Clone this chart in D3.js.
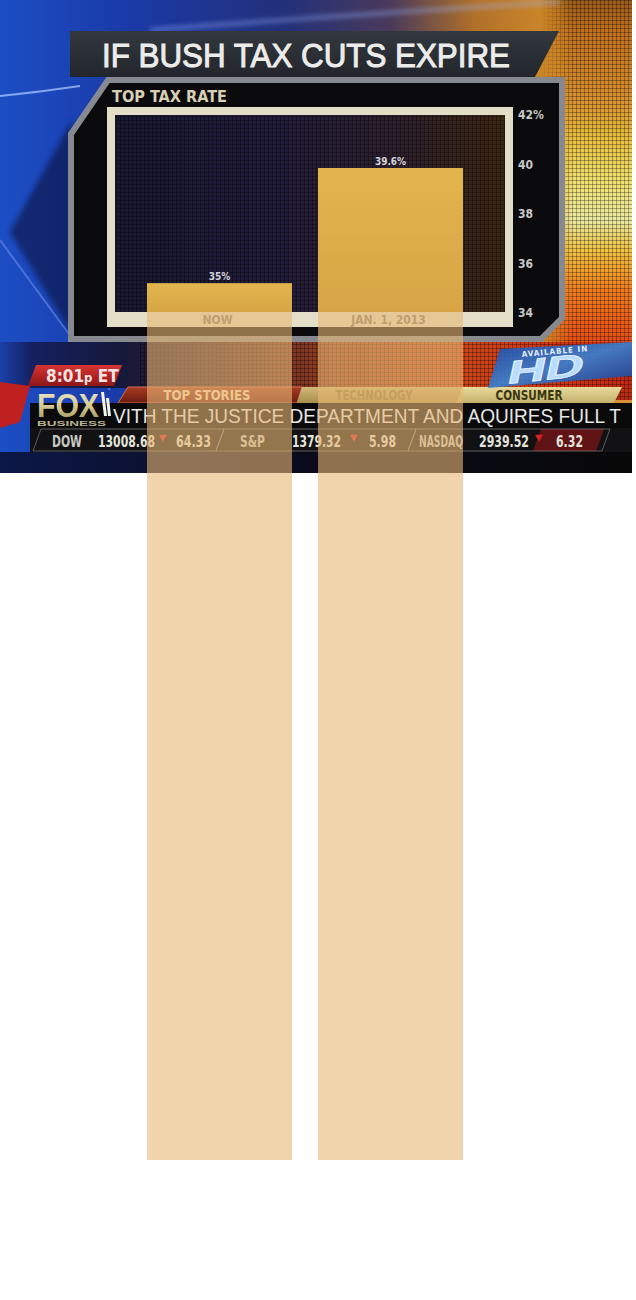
<!DOCTYPE html>
<html>
<head>
<meta charset="utf-8">
<script src="https://cdn.jsdelivr.net/npm/d3@7"></script>
<style>
  body { margin: 0; background: #fff; }
  svg { display: block; }
</style>
</head>
<body>
<div id="chart"></div>
<script>
// values
var categories = ["NOW", "JAN. 1, 2013"];
var rates = [35, 39.6];
var rateLabels = ["35%", "39.6%"];
var axisTicks = [34, 36, 38, 40, 42];
var tabs = ["TOP STORIES", "TECHNOLOGY", "CONSUMER"];
var tickerNames = ["DOW", "S&P", "NASDAQ"];
var tickerValues = ["13008.68", "1379.32", "2939.52"];
var tickerChanges = ["64.33", "5.98", "6.32"];
var crawlText = "VITH THE JUSTICE DEPARTMENT AND AQUIRES FULL T";

var svgWidth = 636;
var svgHeight = 1300;
var tvWidth = 632;
var tvHeight = 473;

var cond = '"Liberation Sans Narrow", "DejaVu Sans Condensed", "Liberation Sans", sans-serif';
var sans = '"Liberation Sans", Arial, sans-serif';

var svg = d3.select("#chart")
    .append("svg")
    .attr("width", svgWidth)
    .attr("height", svgHeight);

var defs = svg.append("defs");

function addGradient(id, x2, y2, stops) {
    var g = defs.append("linearGradient").attr("id", id)
        .attr("x1", 0).attr("y1", 0).attr("x2", x2).attr("y2", y2);
    stops.forEach(function(s) {
        g.append("stop").attr("offset", s[0]).attr("stop-color", s[1])
            .attr("stop-opacity", s[2] == null ? 1 : s[2]);
    });
}

addGradient("bg", 1, 0, [[0, "#1c4ec4"], [0.2, "#1a3aa8"], [0.45, "#23307a"], [0.62, "#4a3a5a"], [0.75, "#b0702a"], [0.88, "#d08a28"], [1, "#d89030"]]);
addGradient("rightCol", 0, 1, [[0, "#9a5a18"], [0.08, "#c07020"], [0.25, "#d89030"], [0.35, "#e8c040"], [0.45, "#f0e070"], [0.55, "#eaeaa0"], [0.63, "#f0c040"], [0.72, "#f08020"], [0.82, "#e85818"], [0.92, "#d83a10"], [1, "#b02a10"]]);
addGradient("fadeGrad", 1, 0, [[0, "#fff", 0], [0.35, "#fff", 1], [1, "#fff", 1]]);
addGradient("lowBand", 1, 0, [[0, "#1a40a8"], [0.05, "#142060"], [0.2, "#161838"], [0.3, "#3a2030"], [0.5, "#8a3a20"], [0.7, "#c84a18"], [0.85, "#d03814"], [1, "#c02810"]]);
addGradient("bottomStrip", 1, 0, [[0, "#0c1848"], [0.4, "#0a0c20"], [1, "#080808"]]);
addGradient("titleBg", 0, 1, [[0, "#33383f"], [1, "#22262c"]]);
addGradient("plotBg", 1, 0, [[0, "#18182f"], [0.4, "#221c3a"], [0.72, "#2c1f2c"], [1, "#3c2612"]]);
addGradient("goldBar", 0, 1, [[0, "#d6b214"], [1, "#bc8a00"]]);
addGradient("redTag", 0, 1, [[0, "#d83434"], [1, "#8e1616"]]);
addGradient("tabRed", 0, 1, [[0, "#a83c22"], [1, "#6a1a10"]]);
addGradient("tabOlive", 0, 1, [[0, "#d0b878"], [1, "#a88e4c"]]);
addGradient("tabBeige", 0, 1, [[0, "#e8da9c"], [1, "#c2b06a"]]);
addGradient("foxGold", 0, 1, [[0, "#f0ecd0"], [0.5, "#d8cc98"], [1, "#9a8a4c"]]);
addGradient("hdBlue", 1, 1, [[0, "#1a4aa8"], [0.5, "#3c80d0"], [1, "#1a3c90"]]);

var dots = defs.append("pattern").attr("id", "dots")
    .attr("width", 4).attr("height", 4).attr("patternUnits", "userSpaceOnUse");
dots.append("path").attr("d", "M0 0.5H4M0.5 0V4")
    .attr("stroke", "#000").attr("stroke-opacity", 0.3).attr("stroke-width", 1);

defs.append("filter").attr("id", "soft").attr("x", "-20%").attr("y", "-20%").attr("width", "140%").attr("height", "140%")
    .append("feGaussianBlur").attr("stdDeviation", 2.5);

defs.append("mask").attr("id", "fadeLeft")
    .append("rect").attr("x", 540).attr("y", 0).attr("width", 92).attr("height", 400)
    .attr("fill", "url(#fadeGrad)");

defs.append("clipPath").attr("id", "tvClip")
    .append("rect").attr("width", tvWidth).attr("height", tvHeight);

var tv = svg.append("g").attr("clip-path", "url(#tvClip)");

// studio backdrop
tv.append("rect").attr("width", tvWidth).attr("height", tvHeight).attr("fill", "url(#bg)");

var rightCol = tv.append("g").attr("mask", "url(#fadeLeft)");
rightCol.append("rect").attr("x", 540).attr("y", 0).attr("width", 92).attr("height", 400).attr("fill", "url(#rightCol)");
rightCol.append("rect").attr("x", 540).attr("y", 0).attr("width", 92).attr("height", 400).attr("fill", "url(#dots)");

tv.append("polygon").attr("points", "72,120 10,232 72,335")
    .attr("fill", "#0e1648").attr("opacity", 0.65).attr("filter", "url(#soft)");
tv.append("path").attr("d", "M0,96 Q40,92 80,86")
    .attr("stroke", "#b0d0ff").attr("stroke-width", 2).attr("fill", "none").attr("opacity", 0.7);
tv.append("path").attr("d", "M150,30 Q360,14 560,2")
    .attr("stroke", "#9ab8ff").attr("stroke-width", 4).attr("fill", "none").attr("opacity", 0.45).attr("filter", "url(#soft)");
tv.append("path").attr("d", "M0,240 L110,390")
    .attr("stroke", "#6a8ae8").attr("stroke-width", 2).attr("fill", "none").attr("opacity", 0.6);

// lower band behind the tabs
tv.append("rect").attr("x", 0).attr("y", 342).attr("width", tvWidth).attr("height", 46).attr("fill", "url(#lowBand)");
tv.append("rect").attr("x", 140).attr("y", 342).attr("width", tvWidth - 140).attr("height", 46).attr("fill", "url(#dots)");
tv.append("polygon").attr("points", "0,382 30,386 20,422 0,428").attr("fill", "#c02020");

// title panel
tv.append("polygon").attr("points", "70,31 559,31 535,77 70,77").attr("fill", "url(#titleBg)");
tv.append("text")
    .attr("x", 102).attr("y", 67)
    .attr("textLength", 408).attr("lengthAdjust", "spacingAndGlyphs")
    .style("font-family", sans).style("font-size", "34px")
    .attr("fill", "#ececea").attr("stroke", "#ececea").attr("stroke-width", 1)
    .text("IF BUSH TAX CUTS EXPIRE");

// chart panel
tv.append("polygon").attr("points", "108,80 562,80 562,318 541,339 71,339 71,134")
    .attr("fill", "#0b0b0d").attr("stroke", "#868a90").attr("stroke-width", 6);
tv.append("text")
    .attr("x", 112).attr("y", 102)
    .attr("textLength", 115).attr("lengthAdjust", "spacingAndGlyphs")
    .style("font-family", cond).style("font-size", "16px").style("font-weight", "bold")
    .attr("fill", "#d8d0b4")
    .text("TOP TAX RATE");

tv.append("rect").attr("x", 107).attr("y", 107).attr("width", 406).attr("height", 220).attr("fill", "#e2dec8");
tv.append("rect").attr("x", 115).attr("y", 115).attr("width", 390).attr("height", 197).attr("fill", "url(#plotBg)");
tv.append("rect").attr("x", 115).attr("y", 115).attr("width", 390).attr("height", 197).attr("fill", "url(#dots)");

// scales: the truncated TV axis and the real zero-based one
var xBand = d3.scaleBand()
    .domain(categories)
    .range([147, 463])
    .paddingInner(0.152)
    .paddingOuter(0);

var yTrunc = d3.scaleLinear()
    .domain([34, 42])
    .range([313, 115]);

var yTrue = d3.scaleLinear()
    .domain([0, 40])
    .range([1160, 158]);

var rightAxis = d3.axisRight(yTrunc)
    .tickValues(axisTicks)
    .tickSize(0)
    .tickPadding(5)
    .tickFormat(function(d) { return d === 42 ? d + "%" : d; });

var axisG = tv.append("g")
    .attr("transform", "translate(513, 0)")
    .call(rightAxis);
axisG.select(".domain").remove();
axisG.selectAll("text")
    .style("font-family", cond).style("font-size", "12px").style("font-weight", "bold")
    .attr("fill", "#c8c8c8");

// original gold bars (cut off at the 34% floor)
tv.selectAll(".goldBar")
    .data(rates)
    .enter()
    .append("rect")
    .attr("class", "goldBar")
    .attr("x", function(d, i) { return xBand(categories[i]); })
    .attr("width", xBand.bandwidth())
    .attr("y", function(d) { return yTrue(d); })
    .attr("height", function(d) { return yTrunc(34) - 1 - yTrue(d); })
    .attr("fill", "url(#goldBar)");

tv.selectAll(".valueLabel")
    .data(rates)
    .enter()
    .append("text")
    .attr("class", "valueLabel")
    .attr("x", function(d, i) { return xBand(categories[i]) + xBand.bandwidth() / 2; })
    .attr("y", function(d) { return yTrue(d) - 3; })
    .attr("text-anchor", "middle")
    .style("font-family", cond).style("font-size", "10px").style("font-weight", "bold")
    .attr("fill", "#d4d4dc")
    .text(function(d, i) { return rateLabels[i]; });

var bottomAxis = d3.axisBottom(xBand).tickSize(0).tickPadding(3);
var catG = tv.append("g")
    .attr("transform", "translate(-2, 312)")
    .call(bottomAxis);
catG.select(".domain").remove();
catG.selectAll("text")
    .style("font-family", cond).style("font-size", "12px").style("font-weight", "bold")
    .attr("fill", "#7e7868");

// time tag and logo
tv.append("polygon").attr("points", "36,365 122,365 114,386 28,386").attr("fill", "url(#redTag)");
var tag = tv.append("text").attr("x", 46).attr("y", 382)
    .style("font-family", cond).style("font-weight", "bold").attr("fill", "#f4e4e4");
tag.append("tspan").style("font-size", "17px").text("8:01");
tag.append("tspan").style("font-size", "13px").text("p");
tag.append("tspan").style("font-size", "17px").text(" ET");

// tabs
var tabShapes = [
    {pts: "128,387 302,387 297,403 118,403", fill: "url(#tabRed)", stroke: "#d27050", text: "#f2dcb4", cx: 207, w: 87},
    {pts: "302,387 462,387 456,403 297,403", fill: "url(#tabOlive)", stroke: "none", text: "#8a7a40", cx: 374, w: 77},
    {pts: "462,387 622,387 614,403 456,403", fill: "url(#tabBeige)", stroke: "none", text: "#3a3810", cx: 529, w: 67}
];
tabs.forEach(function(t, i) {
    var s = tabShapes[i];
    tv.append("polygon").attr("points", s.pts).attr("fill", s.fill).attr("stroke", s.stroke).attr("stroke-width", 1);
    tv.append("text")
        .attr("x", s.cx).attr("y", 400)
        .attr("text-anchor", "middle")
        .attr("textLength", s.w).attr("lengthAdjust", "spacingAndGlyphs")
        .style("font-family", cond).style("font-size", "14px").style("font-weight", "bold")
        .attr("fill", s.text)
        .text(t);
});

// HD badge
tv.append("polygon").attr("points", "500,349 632,342 632,376 488,388").attr("fill", "url(#hdBlue)").attr("opacity", 0.92);
tv.append("text")
    .attr("transform", "translate(522, 357) rotate(-5)")
    .style("font-family", cond).style("font-size", "8px").style("font-weight", "bold")
    .attr("fill", "#e0f0ff").attr("letter-spacing", 1)
    .text("AVAILABLE IN");
tv.append("text")
    .attr("transform", "translate(506, 384) rotate(-6) skewX(-18)")
    .attr("textLength", 76).attr("lengthAdjust", "spacingAndGlyphs")
    .style("font-family", sans).style("font-size", "32px").style("font-weight", "bold")
    .attr("fill", "#b8dcff").attr("stroke", "#e8f4ff").attr("stroke-width", 0.8)
    .text("HD");

// crawl and ticker rows
tv.append("rect").attr("x", 30).attr("y", 403).attr("width", tvWidth - 30).attr("height", 25).attr("fill", "#0a0a0a");
tv.append("rect").attr("x", 30).attr("y", 428).attr("width", tvWidth - 30).attr("height", 24).attr("fill", "#121214");
tv.append("rect").attr("x", 0).attr("y", 452).attr("width", tvWidth).attr("height", 21).attr("fill", "url(#bottomStrip)");

tv.append("text")
    .attr("x", 113).attr("y", 423)
    .attr("textLength", 508).attr("lengthAdjust", "spacingAndGlyphs")
    .style("font-family", sans).style("font-size", "21px")
    .attr("fill", "#e6e6e6")
    .text(crawlText);

tv.append("polygon").attr("points", "541,429 604,429 596,451 533,451").attr("fill", "#7a1414").attr("opacity", 0.75);

var tickerLayout = [
    {x0: 35, x1: 218, name: 52, nameW: 30, val: 98, valW: 57, tri: 163, chg: 176, chgW: 35},
    {x0: 218, x1: 410, name: 240, nameW: 25, val: 292, valW: 49, tri: 354, chg: 369, chgW: 27},
    {x0: 410, x1: 604, name: 419, nameW: 44, val: 479, valW: 50, tri: 539, chg: 556, chgW: 27}
];

tickerNames.forEach(function(n, i) {
    var L = tickerLayout[i];
    tv.append("polygon")
        .attr("points", [[L.x0 + 6, 429], [L.x1 + 6, 429], [L.x1 - 2, 451], [L.x0 - 2, 451]].join(" "))
        .attr("fill", "none").attr("stroke", "#8c8c8c").attr("stroke-opacity", 0.6);
    var row = tv.append("g")
        .style("font-family", cond).style("font-size", "15px").style("font-weight", "bold")
        .attr("fill", "#e4e4dc");
    row.append("text").attr("x", L.name).attr("y", 447)
        .attr("textLength", L.nameW).attr("lengthAdjust", "spacingAndGlyphs")
        .attr("fill", "#c8c8c0").text(n);
    row.append("text").attr("x", L.val).attr("y", 447)
        .attr("textLength", L.valW).attr("lengthAdjust", "spacingAndGlyphs").text(tickerValues[i]);
    row.append("path")
        .attr("d", d3.symbol(d3.symbolTriangle).size(28))
        .attr("transform", "translate(" + L.tri + ", 437) rotate(180)")
        .attr("fill", "#d42020");
    row.append("text").attr("x", L.chg).attr("y", 447)
        .attr("textLength", L.chgW).attr("lengthAdjust", "spacingAndGlyphs").text(tickerChanges[i]);
});

// FOX BUSINESS logo (on top of the crawl strip)
tv.append("text")
    .attr("x", 37).attr("y", 417)
    .attr("textLength", 62).attr("lengthAdjust", "spacingAndGlyphs")
    .style("font-family", sans).style("font-size", "34px").style("font-weight", "bold")
    .attr("fill", "url(#foxGold)")
    .text("FOX");
tv.append("polygon").attr("points", "101,392 104,392 107,416 104,416").attr("fill", "#f4f4f4");
tv.append("polygon").attr("points", "106,398 109,398 111,416 108,416").attr("fill", "#f4f4f4");
tv.append("text")
    .attr("x", 37).attr("y", 426)
    .attr("textLength", 69).attr("lengthAdjust", "spacingAndGlyphs")
    .style("font-family", sans).style("font-size", "8px").style("font-weight", "bold")
    .attr("fill", "#b8b090")
    .text("BUSINESS");

// overlay: the same values drawn from a zero baseline
svg.selectAll(".trueBar")
    .data(rates)
    .enter()
    .append("rect")
    .attr("class", "trueBar")
    .attr("x", function(d, i) { return xBand(categories[i]); })
    .attr("width", xBand.bandwidth())
    .attr("y", function(d) { return yTrue(d); })
    .attr("height", function(d) { return yTrue(0) - yTrue(d); })
    .attr("fill", "#e9b775")
    .attr("fill-opacity", 0.6);
</script>
</body>
</html>
